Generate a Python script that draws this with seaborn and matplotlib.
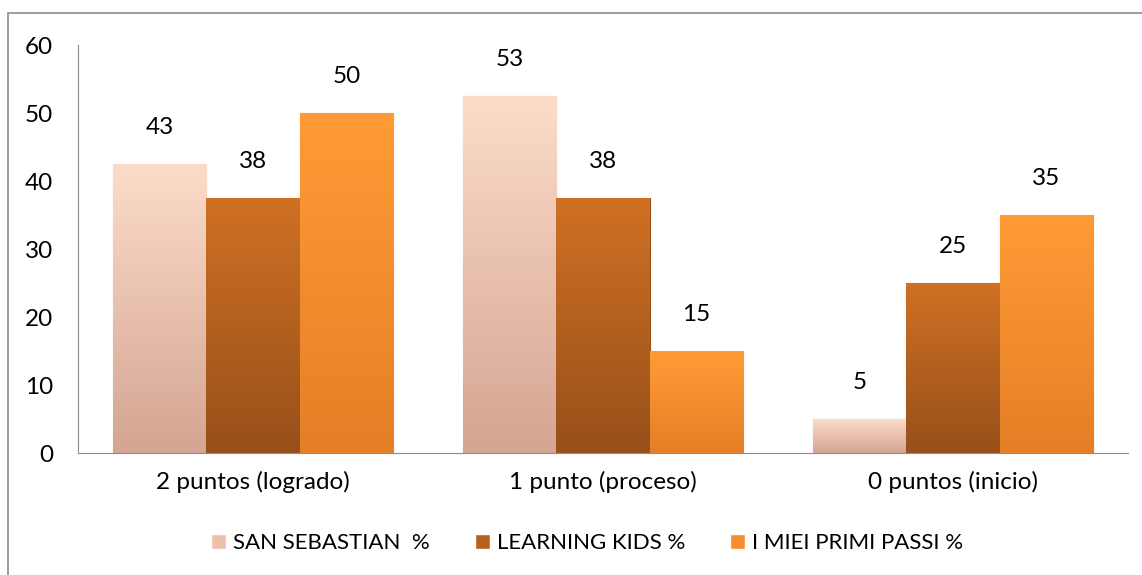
import numpy as np
import pandas as pd
import matplotlib.pyplot as plt
import matplotlib.colors as mcolors
from matplotlib.patches import Rectangle
import seaborn as sns

categorias = ["2 puntos (logrado)", "1 punto (proceso)", "0 puntos (inicio)"]
series = ["SAN SEBASTIAN  %", "LEARNING KIDS %", "I MIEI PRIMI PASSI %"]
san_sebastian = [42.5, 52.5, 5]
learning_kids = [37.5, 37.5, 25]
miei_primi = [50, 15, 35]

top_cols = ["#FCDCC8", "#CF7024", "#FF9B36"]
bot_cols = ["#D4A593", "#97501A", "#E57F27"]
flat_cols = ["#EDC0AA", "#B8601F", "#F68D2F"]

df = pd.DataFrame({
    "cat": categorias * 3,
    "serie": [series[0]] * 3 + [series[1]] * 3 + [series[2]] * 3,
    "val": san_sebastian + learning_kids + miei_primi,
})

sns.set_style("white")
plt.rcParams["font.family"] = ["Lato", "DejaVu Sans"]
plt.rcParams["text.color"] = "black"
plt.rcParams["xtick.color"] = "black"
plt.rcParams["ytick.color"] = "black"

fig = plt.figure(figsize=(11.42, 5.75), dpi=100)
ax = fig.add_axes([78 / 1142, 1 - 453 / 575, 1050 / 1142, 408 / 575])

sns.barplot(data=df, x="cat", y="val", hue="serie", palette=flat_cols,
            width=0.8, ax=ax, legend=True, saturation=1)

# vertical gradient on each bar (imitates the excel bevel look)
for i, cont in enumerate(ax.containers):
    cmap = mcolors.LinearSegmentedColormap.from_list("g", [bot_cols[i], top_cols[i]])
    grad = np.linspace(0, 1, 100).reshape(-1, 1)
    for p in cont.patches:
        x0, y0 = p.get_x(), p.get_y()
        w, h = p.get_width(), p.get_height()
        im = ax.imshow(grad, cmap=cmap, aspect="auto", origin="lower",
                       extent=[x0, x0 + w, y0, y0 + h], zorder=p.get_zorder())
        im.set_clip_path(p)
        p.set_edgecolor(bot_cols[i])
        p.set_linewidth(0.8)
    labels = [str(int(v + 0.5)) for v in cont.datavalues]
    ax.bar_label(cont, labels=labels, padding=19, fontsize=17.5, color="black")

ax.set_xlim(-0.5, 2.5)
ax.set_ylim(0, 60)
ax.set_yticks(range(0, 61, 10))
ax.set_xlabel("")
ax.set_ylabel("")
ax.tick_params(axis="both", labelsize=17.5, length=0, labelcolor="black")
ax.tick_params(axis="y", pad=18)
ax.tick_params(axis="x", pad=13)
for s in ["top", "right"]:
    ax.spines[s].set_visible(False)
ax.spines["left"].set_color("#8C8C8C")
ax.spines["bottom"].set_color("#8C8C8C")

handles, labs = ax.get_legend_handles_labels()
leg = ax.legend(handles, labs, loc="center", bbox_to_anchor=(587 / 1142, 1 - 543 / 575),
                bbox_transform=fig.transFigure, ncol=3, frameon=False, fontsize=16,
                handlelength=0.68, handleheight=0.68, columnspacing=2.0,
                handletextpad=0.32, borderpad=0)
for t in leg.get_texts():
    t.set_color("black")

fig.patches.append(Rectangle((8 / 1142, -0.1), 1.2, 1 - 13 / 575 + 0.1,
                             transform=fig.transFigure, fill=False,
                             edgecolor="#8C8C8C", linewidth=1.2))

fig.savefig("out.png", dpi=100)
